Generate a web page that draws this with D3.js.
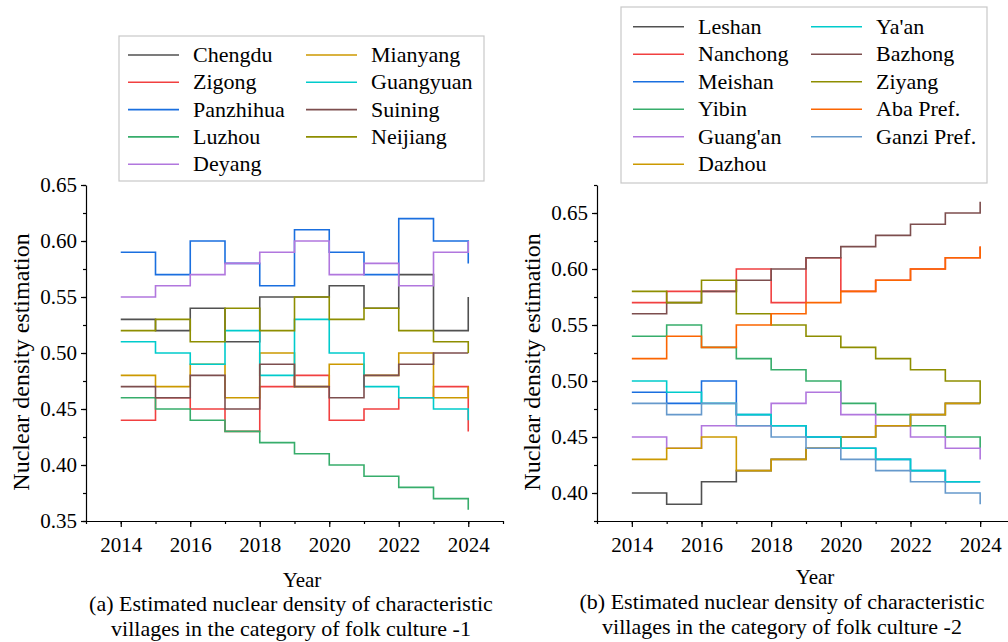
<!DOCTYPE html>
<html lang="en">
<head>
<meta charset="utf-8">
<script src="https://cdnjs.cloudflare.com/ajax/libs/d3/7.8.5/d3.min.js"></script>
<style>
	body{ margin:0; background:#fff; }
	svg text{ font-family:"Liberation Serif","Times New Roman",serif; fill:#000; }
	.axis path, .axis line{ stroke:#000; stroke-width:1.2; }
</style>
</head>
<body>
<svg id="chart" width="1008" height="642"></svg>
<script>
	const years = [2014, 2015, 2016, 2017, 2018, 2019, 2020, 2021, 2022, 2023, 2024];

	// panel (a)
	const namesA = ["Chengdu", "Zigong", "Panzhihua", "Luzhou", "Deyang", "Mianyang", "Guangyuan", "Suining", "Neijiang"];
	const chengdu   = [0.53, 0.52, 0.54, 0.51, 0.55, 0.55, 0.56, 0.54, 0.57, 0.52, 0.55];
	const zigong    = [0.44, 0.46, 0.45, 0.43, 0.47, 0.48, 0.44, 0.45, 0.46, 0.47, 0.43];
	const panzhihua = [0.59, 0.57, 0.60, 0.58, 0.56, 0.61, 0.59, 0.57, 0.62, 0.60, 0.58];
	const luzhou    = [0.46, 0.45, 0.44, 0.43, 0.42, 0.41, 0.40, 0.39, 0.38, 0.37, 0.36];
	const deyang    = [0.55, 0.56, 0.57, 0.58, 0.59, 0.60, 0.57, 0.58, 0.56, 0.59, 0.60];
	const mianyang  = [0.48, 0.47, 0.49, 0.46, 0.50, 0.47, 0.49, 0.48, 0.50, 0.46, 0.47];
	const guangyuan = [0.51, 0.50, 0.49, 0.52, 0.48, 0.53, 0.50, 0.47, 0.46, 0.45, 0.44];
	const suining   = [0.47, 0.46, 0.48, 0.45, 0.49, 0.47, 0.46, 0.48, 0.49, 0.50, 0.50];
	const neijiang  = [0.52, 0.53, 0.51, 0.54, 0.52, 0.55, 0.53, 0.54, 0.52, 0.51, 0.50];

	// panel (b)
	const namesB = ["Leshan", "Nanchong", "Meishan", "Yibin", "Guang'an", "Dazhou", "Ya'an", "Bazhong", "Ziyang", "Aba Pref.", "Ganzi Pref."];
	const leshan   = [0.40, 0.39, 0.41, 0.42, 0.43, 0.44, 0.45, 0.46, 0.47, 0.48, 0.48];
	const nanchong = [0.57, 0.58, 0.58, 0.60, 0.57, 0.61, 0.58, 0.59, 0.60, 0.61, 0.62];
	const meishan  = [0.49, 0.48, 0.50, 0.47, 0.46, 0.45, 0.44, 0.43, 0.42, 0.41, 0.41];
	const yibin    = [0.54, 0.55, 0.53, 0.52, 0.51, 0.50, 0.48, 0.47, 0.46, 0.45, 0.44];
	const guangan  = [0.45, 0.44, 0.46, 0.46, 0.48, 0.49, 0.47, 0.46, 0.45, 0.44, 0.43];
	const dazhou   = [0.43, 0.44, 0.45, 0.42, 0.43, 0.44, 0.45, 0.46, 0.47, 0.48, 0.48];
	const yaan     = [0.50, 0.49, 0.48, 0.47, 0.46, 0.45, 0.44, 0.43, 0.42, 0.41, 0.41];
	const bazhong  = [0.56, 0.57, 0.58, 0.59, 0.60, 0.61, 0.62, 0.63, 0.64, 0.65, 0.66];
	const ziyang   = [0.58, 0.57, 0.59, 0.56, 0.55, 0.54, 0.53, 0.52, 0.51, 0.50, 0.48];
	const aba      = [0.52, 0.54, 0.53, 0.55, 0.56, 0.57, 0.58, 0.59, 0.60, 0.61, 0.62];
	const ganzi    = [0.48, 0.47, 0.48, 0.46, 0.45, 0.44, 0.43, 0.42, 0.41, 0.40, 0.39];

	const xTicks = [2014, 2016, 2018, 2020, 2022, 2024];
	const yTicksA = [0.35, 0.40, 0.45, 0.50, 0.55, 0.60, 0.65];
	const yTicksB = [0.40, 0.45, 0.50, 0.55, 0.60, 0.65];

	const palette = ["#515151", "#F14040", "#1A6FDF", "#37AD6B", "#B177DE", "#CC9900",
	                 "#00CBCC", "#7D4E4E", "#8E8E00", "#FB6501", "#6699CC"];

	const serif = "'Liberation Serif','Times New Roman',serif";
	const svg = d3.select("#chart");

	function drawPanel(p) {
		const x = d3.scaleLinear().domain([2013, 2025]).range([p.left, p.right]);
		const y = d3.scaleLinear().domain(p.yDomain).range([p.bottom, p.top]);
		const g = svg.append("g");

		// minor ticks
		g.append("g").attr("class", "axis")
			.attr("transform", `translate(0,${p.bottom})`)
			.call(d3.axisBottom(x).tickValues(d3.range(2013, 2026)).tickSize(3).tickFormat(""))
			.call(a => a.select(".domain").remove());
		g.append("g").attr("class", "axis")
			.attr("transform", `translate(${p.left},0)`)
			.call(d3.axisLeft(y).tickValues(d3.range(p.yDomain[0], p.yDomain[1] + 0.001, 0.025)).tickSize(3).tickFormat(""))
			.call(a => a.select(".domain").remove());

		g.append("g").attr("class", "axis")
			.attr("transform", `translate(0,${p.bottom})`)
			.call(d3.axisBottom(x).tickValues(xTicks).tickSize(6).tickSizeOuter(0).tickPadding(10).tickFormat(d3.format("d")))
			.attr("font-family", serif).attr("font-size", 21);
		g.append("g").attr("class", "axis")
			.attr("transform", `translate(${p.left},0)`)
			.call(d3.axisLeft(y).tickValues(p.yTicks).tickSize(5).tickSizeOuter(0).tickPadding(4).tickFormat(d3.format(".2f")))
			.attr("font-family", serif).attr("font-size", 21);

		const line = d3.line()
			.x((d, i) => x(years[i]))
			.y(d => y(d))
			.curve(d3.curveStepAfter);

		g.selectAll(".series")
			.data(p.series)
			.enter()
			.append("path")
			.attr("fill", "none")
			.attr("stroke", (d, i) => palette[i])
			.attr("stroke-width", 1.6)
			.attr("d", d => line(d));

		// axis titles and caption
		g.append("text")
			.attr("transform", `translate(${p.yTitleX},${(p.top + p.bottom) / 2 + 9}) rotate(-90)`)
			.attr("text-anchor", "middle")
			.attr("font-size", 24)
			.text("Nuclear density estimation");
		g.append("text")
			.attr("x", p.yearX).attr("y", p.yearY)
			.attr("text-anchor", "middle")
			.attr("font-size", 21)
			.text("Year");
		p.caption.forEach((c, i) => {
			g.append("text")
				.attr("x", p.capX).attr("y", p.capY + i * 25)
				.attr("text-anchor", "middle")
				.attr("font-size", 22)
				.text(c);
		});

		// legend
		const lg = p.legend;
		g.append("rect")
			.attr("x", lg.x).attr("y", lg.y)
			.attr("width", lg.w).attr("height", lg.h)
			.attr("fill", "#fff").attr("stroke", "#c8c8c8").attr("stroke-width", 1.2);
		p.names.forEach((n, i) => {
			const col = i < lg.perCol ? 0 : 1;
			const row = i < lg.perCol ? i : i - lg.perCol;
			const cx = lg.colX[col];
			const cy = lg.row0 + row * lg.rowH;
			g.append("line")
				.attr("x1", cx).attr("x2", cx + 51)
				.attr("y1", cy).attr("y2", cy)
				.attr("stroke", palette[i]).attr("stroke-width", 1.6);
			g.append("text")
				.attr("x", cx + 65).attr("y", cy + 7)
				.attr("font-size", 22)
				.text(n);
		});
	}

	drawPanel({
		left: 86, right: 503, top: 185, bottom: 521,
		yDomain: [0.35, 0.65], yTicks: yTicksA,
		series: [chengdu, zigong, panzhihua, luzhou, deyang, mianyang, guangyuan, suining, neijiang],
		names: namesA,
		yTitleX: 29, yearX: 302, yearY: 587,
		caption: ["(a) Estimated nuclear density of characteristic", "villages in the category of folk culture -1"],
		capX: 291, capY: 611,
		legend: { x: 119, y: 36, w: 365, h: 145, perCol: 5, colX: [128, 306], row0: 55, rowH: 27.3 }
	});

	drawPanel({
		left: 597, right: 1015, top: 185, bottom: 521,
		yDomain: [0.375, 0.675], yTicks: yTicksB,
		series: [leshan, nanchong, meishan, yibin, guangan, dazhou, yaan, bazhong, ziyang, aba, ganzi],
		names: namesB,
		yTitleX: 540, yearX: 815, yearY: 584,
		caption: ["(b) Estimated nuclear density of characteristic", "villages in the category of folk culture -2"],
		capX: 782, capY: 609,
		legend: { x: 621, y: 7, w: 366, h: 176, perCol: 6, colX: [633, 811], row0: 26.7, rowH: 27.5 }
	});
</script>
</body>
</html>
